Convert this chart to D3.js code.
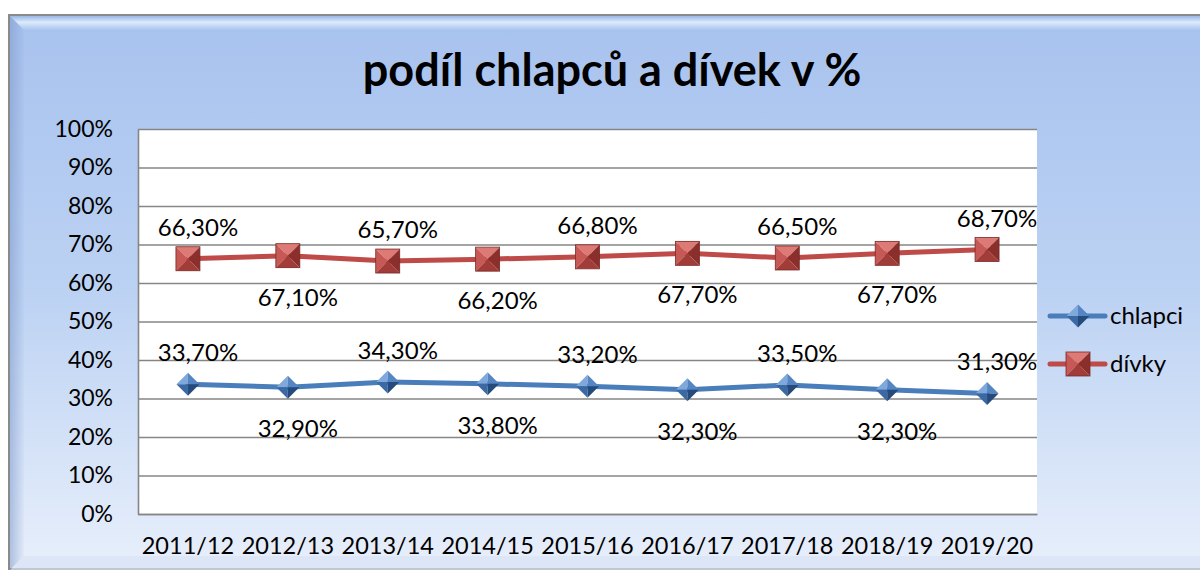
<!DOCTYPE html>
<html><head><meta charset="utf-8">
<script src="https://cdn.jsdelivr.net/npm/d3@7"></script>
<style>
html,body{margin:0;padding:0;background:#fff;}
svg{display:block;}
text{font-family:Lato,"Open Sans",sans-serif;fill:#000;}
</style></head>
<body>
<svg id="chart" width="1200" height="571"></svg>
<script>
// ---- data ----
const categories = ["2011/12","2012/13","2013/14","2014/15","2015/16","2016/17","2017/18","2018/19","2019/20"];
const chlapci = [33.7,32.9,34.3,33.8,33.2,32.3,33.5,32.3,31.3];
const divky   = [66.3,67.1,65.7,66.2,66.8,67.7,66.5,67.7,68.7];
const seriesNames = ["chlapci","dívky"];
const yTicks = [0,10,20,30,40,50,60,70,80,90,100];
const chartTitle = "podíl chlapců a dívek v %";

const svg = d3.select("#chart");
const plot = {left:138, right:1037, top:129, bottom:514};

const defs = svg.append("defs");
const bg = defs.append("linearGradient").attr("id","bg").attr("x1",0).attr("y1",0).attr("x2",0).attr("y2",1);
bg.append("stop").attr("offset","0").attr("stop-color","#a7c2ee");
bg.append("stop").attr("offset","0.5").attr("stop-color","#bcd2f3");
bg.append("stop").attr("offset","1").attr("stop-color","#e8effb");
const topBev = defs.append("linearGradient").attr("id","topBev").attr("x1",0).attr("y1",0).attr("x2",0).attr("y2",1);
topBev.append("stop").attr("offset","0").attr("stop-color","#9ab7e8");
topBev.append("stop").attr("offset","0.45").attr("stop-color","#dcebfc");
topBev.append("stop").attr("offset","1").attr("stop-color","#a9c4ef");
const leftBev = defs.append("linearGradient").attr("id","leftBev").attr("x1",0).attr("y1",0).attr("x2",1).attr("y2",0);
leftBev.append("stop").attr("offset","0").attr("stop-color","#7f9acb").attr("stop-opacity",0.55);
leftBev.append("stop").attr("offset","1").attr("stop-color","#7f9acb").attr("stop-opacity",0.05);

// frame
svg.append("rect").attr("x",9).attr("y",15).attr("width",1200).attr("height",554)
  .attr("fill","url(#bg)").attr("stroke","#8a8a8a").attr("stroke-width",2);
svg.append("path").attr("d","M10,16 L1200,16 L1200,30 L24,30 Z").attr("fill","url(#topBev)");
svg.append("path").attr("d","M10,16 L24,30 L24,556 L10,570 Z").attr("fill","url(#leftBev)");
svg.append("path").attr("d","M10,570 L24,556 L1200,556 L1200,570 Z").attr("fill","#d7e2f3").attr("opacity",0.7);

// title
svg.append("text").attr("x",612).attr("y",86).attr("text-anchor","middle")
  .style("font-size","45px").style("font-weight","bold").text(chartTitle);

// scales
const x = d3.scaleBand().domain(categories).range([plot.left, plot.right]);
const y = d3.scaleLinear().domain([0,100]).range([plot.bottom, plot.top]);
const cx = d => x(d) + x.bandwidth()/2;

// plot area
svg.append("rect").attr("x",plot.left).attr("y",plot.top)
  .attr("width",plot.right-plot.left).attr("height",plot.bottom-plot.top).attr("fill","#fff");

// gridlines
const grid = svg.append("g").attr("transform",`translate(${plot.left},0)`)
  .call(d3.axisLeft(y).tickValues(yTicks).tickSize(-(plot.right-plot.left)).tickFormat(""));
grid.select(".domain").remove();
grid.selectAll("line").attr("stroke","#868686").attr("stroke-width",1.6);

// y axis labels
const yAxis = svg.append("g").attr("transform",`translate(${plot.left},0)`)
  .call(d3.axisLeft(y).tickValues(yTicks).tickSize(0).tickPadding(25).tickFormat(d => d + "%"));
yAxis.select(".domain").attr("stroke","#868686").attr("stroke-width",1.6);
yAxis.selectAll("text").style("font-size","23px").style("font-family","Lato,sans-serif").attr("fill","#000");

// x axis
const xAxis = svg.append("g").attr("transform",`translate(0,${plot.bottom})`)
  .call(d3.axisBottom(x).tickSize(0).tickPadding(23));
xAxis.select(".domain").attr("stroke","#868686").attr("stroke-width",1.6);
xAxis.selectAll("text").style("font-size","23.5px").style("font-family","Lato,sans-serif").attr("fill","#000");

// marker drawers
function drawSquare(g, px, py, s){
  const h = s/2;
  const tl=[px-h,py-h], tr=[px+h,py-h], br=[px+h,py+h], bl=[px-h,py+h], c=[px,py];
  const tri = (a,b,col) => g.append("path").attr("d",`M${a}L${b}L${c}Z`).attr("fill",col);
  tri(tl,tr,"#de7a76");
  tri(tl,bl,"#c65955");
  tri(tr,br,"#8a2f2c");
  tri(bl,br,"#a13c39");
  g.append("rect").attr("x",px-h).attr("y",py-h).attr("width",s).attr("height",s)
    .attr("fill","none").attr("stroke","#7a2a27").attr("stroke-width",0.8);
}
function drawDiamond(g, px, py, s){
  const h = s/2;
  const t=[px,py-h], r=[px+h,py], b=[px,py+h], l=[px-h,py], c=[px,py];
  const tri = (a,bb,col) => g.append("path").attr("d",`M${a}L${bb}L${c}Z`).attr("fill",col);
  tri(t,l,"#7fa8db");
  tri(t,r,"#5585c2");
  tri(l,b,"#3b69a3");
  tri(r,b,"#254b7c");
}

const fmt = v => v.toFixed(2).replace(".", ",") + "%";

const series = [
  {name: seriesNames[0], values: chlapci, color:"#4a7ebb", marker: drawDiamond, size:23},
  {name: seriesNames[1], values: divky,   color:"#be4b48", marker: drawSquare,  size:24}
];

const line = d3.line().x((d,i) => cx(categories[i])).y(d => y(d));

series.forEach(s => {
  svg.append("path").attr("d", line(s.values)).attr("fill","none")
    .attr("stroke", s.color).attr("stroke-width",5).attr("stroke-linejoin","round").attr("stroke-linecap","round");
  const mg = svg.append("g");
  s.values.forEach((v,i) => s.marker(mg, cx(categories[i]), y(v), s.size));
  svg.append("g").selectAll("text").data(s.values).join("text")
    .attr("x", (d,i) => cx(categories[i]) + 10)
    .attr("y", (d,i) => i % 2 === 0 ? y(d) - 23 : y(d) + 50)
    .attr("text-anchor","middle")
    .style("font-size","24px")
    .text(d => fmt(d));
});

// legend
const legY = [316, 364];
series.forEach((s,k) => {
  const g = svg.append("g");
  g.append("line").attr("x1",1050).attr("x2",1105).attr("y1",legY[k]).attr("y2",legY[k])
    .attr("stroke", s.color).attr("stroke-width",5).attr("stroke-linecap","round");
  s.marker(g, 1078, legY[k], s.size);
  g.append("text").attr("x",1110).attr("y",legY[k]+8).style("font-size","24px").text(s.name);
});
</script>
</body></html>
